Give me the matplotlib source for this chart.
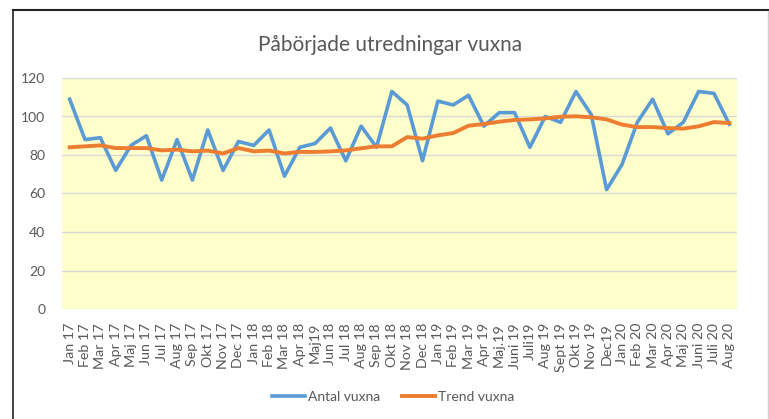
import numpy as np
import matplotlib
matplotlib.use('Agg')
import matplotlib.pyplot as plt
from matplotlib.lines import Line2D

plt.rcParams['font.family'] = ['Lato', 'DejaVu Sans']

# Månadsetiketter som i originalet (inkl. stavningsvarianter)
months = [
    "Jan 17", "Feb 17", "Mar 17", "Apr 17", "Maj 17", "Jun 17", "Jul 17", "Aug 17",
    "Sep 17", "Okt 17", "Nov 17", "Dec 17",
    "Jan 18", "Feb 18", "Mar 18", "Apr 18", "Maj19", "Jun 18", "Jul 18", "Aug 18",
    "Sep 18", "Okt 18", "Nov 18", "Dec 18",
    "Jan 19", "Feb 19", "Mar 19", "Apr 19", "Maj.19", "Juni 19", "Juli19", "Aug 19",
    "Sept 19", "Okt 19", "Nov 19", "Dec19",
    "Jan 20", "Feb 20", "Mar 20", "Apr 20", "Maj 20", "Juni 20", "Juli 20", "Aug 20",
]

antal_vuxna = [
    109, 88, 89, 72, 85, 90, 67, 88, 67, 93, 72, 87,
    85, 93, 69, 84, 86, 94, 77, 95, 84, 113, 106, 77,
    108, 106, 111, 95, 102, 102, 84, 100, 97, 113, 101, 62,
    75, 97, 109, 91, 97, 113, 112, 96,
]

trend_vuxna = [
    84, 84.5, 85, 83.6, 83.6, 83.6, 82.4, 82.8, 81.9, 82.3, 80.8, 83.6,
    81.9, 82.3, 80.8, 81.6, 81.6, 81.9, 82.4, 83.5, 84.5, 84.5, 89.3, 88.5,
    90.2, 91.4, 95.2, 96.1, 97.3, 98.2, 98.5, 99, 99.9, 100.1, 99.6, 98.5,
    95.8, 94.5, 94.5, 94, 93.7, 94.9, 97.1, 96.6,
]

W, H = 769, 419
fig = plt.figure(figsize=(W / 100, H / 100), dpi=100)
ax = fig.add_axes([62 / W, 1 - 309 / H, (737 - 62) / W, (309 - 78) / H])

x = np.arange(len(months))
ax.plot(x, antal_vuxna, color="#5B9BD5", lw=2.6, label="Antal vuxna", zorder=3)
ax.plot(x, trend_vuxna, color="#ED7D31", lw=2.8, label="Trend vuxna", zorder=4)

ax.set_facecolor("#FFFFCC")
ax.set_xlim(-0.5, len(months) - 0.5)
ax.set_ylim(0, 120)
ax.set_yticks(range(0, 121, 20))
ax.grid(axis="y", color="#D9D9D9", lw=1.0, zorder=0)
ax.set_axisbelow(True)
for s in ax.spines.values():
    s.set_visible(False)

ax.set_xticks(x)
ax.set_xticklabels(months, rotation=90, fontsize=10.3, color="#595959")
ax.tick_params(axis="x", length=0, pad=10)
ax.tick_params(axis="y", length=0, pad=12, labelsize=10, labelcolor="#595959")

fig.text(390 / W, 1 - 45 / H, "Påbörjade utredningar vuxna", ha="center", va="center",
         fontsize=15, color="#595959")

fig.legend(loc="center", bbox_to_anchor=(393 / W, 1 - 397 / H), ncol=2, frameon=False,
           fontsize=10, handlelength=2.4, handletextpad=0.2, columnspacing=1.6,
           labelcolor="#595959")

# ram runt diagrammet
fig.add_artist(Line2D([13 / W, 1], [1 - 10 / H] * 2, color="#222222", lw=1.5))
fig.add_artist(Line2D([13 / W] * 2, [0, 1 - 10 / H], color="#222222", lw=1.2))
fig.add_artist(Line2D([767.5 / W] * 2, [0, 1 - 11 / H], color="#D0D0D0", lw=1.0))

fig.savefig("out.png", dpi=100)
